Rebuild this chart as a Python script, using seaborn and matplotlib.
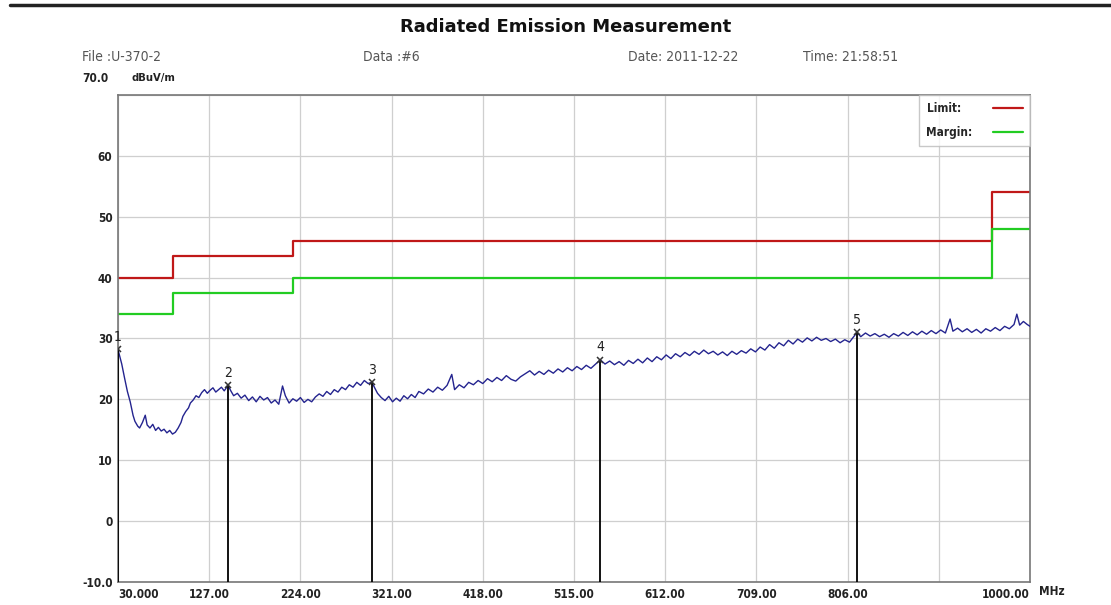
import matplotlib
matplotlib.use('Agg')
import matplotlib.pyplot as plt
import seaborn as sns
import pandas as pd
from matplotlib.lines import Line2D

freq = [30, 32, 34, 37, 40, 43, 46, 48, 51, 53, 56, 59, 61, 64, 67, 70, 73, 76, 79, 82,
        85, 88, 91, 94, 97, 99, 102, 105, 107, 110, 113, 116, 119, 122, 125, 128, 131, 134, 137, 140,
        143, 147, 150, 153, 157, 161, 165, 169, 173, 177, 181, 185, 189, 193, 197, 201, 205, 208, 212, 216,
        220, 224, 228, 232, 236, 240, 244, 248, 252, 256, 260, 264, 268, 272, 276, 280, 284, 288, 292, 296,
        300, 303, 306, 310, 314, 318, 322, 326, 330, 334, 338, 342, 346, 350, 355, 360, 365, 370, 375, 380,
        385, 388, 393, 398, 403, 408, 413, 418, 423, 428, 433, 438, 443, 448, 453, 458, 463, 468, 473, 478,
        483, 488, 493, 498, 503, 508, 513, 518, 523, 528, 533, 538, 543, 548, 553, 558, 563, 568, 573, 578,
        583, 588, 593, 598, 603, 608, 613, 618, 623, 628, 633, 638, 643, 648, 653, 658, 663, 668, 673, 678,
        683, 688, 693, 698, 703, 708, 713, 718, 723, 728, 733, 738, 743, 748, 753, 758, 763, 768, 773, 778,
        783, 788, 793, 798, 803, 808, 812, 816, 820, 825, 830, 835, 840, 845, 850, 855, 860, 865, 870, 875,
        880, 885, 890, 895, 900, 905, 910, 915, 918, 923, 928, 933, 938, 943, 948, 953, 958, 963, 968, 973,
        978, 983, 986, 989, 993, 997, 1000]
level = [28.2, 27.0, 25.8, 23.5, 21.3, 19.6, 17.4, 16.4, 15.6, 15.3, 16.2, 17.4, 15.8, 15.3, 15.9, 14.9, 15.4, 14.8, 15.1, 14.5,
         14.9, 14.3, 14.6, 15.3, 16.2, 17.2, 18.0, 18.6, 19.4, 19.9, 20.6, 20.3, 21.1, 21.6, 21.0, 21.5, 21.9, 21.2, 21.6, 22.0,
         21.4, 22.3, 21.4, 20.6, 21.0, 20.2, 20.7, 19.8, 20.4, 19.6, 20.5, 19.9, 20.3, 19.4, 19.9, 19.2, 22.2, 20.6, 19.4, 20.1,
         19.7, 20.3, 19.5, 20.0, 19.6, 20.4, 20.9, 20.5, 21.3, 20.8, 21.6, 21.2, 22.0, 21.6, 22.4, 22.0, 22.8, 22.3, 23.1, 22.6,
         22.8, 21.9, 21.0, 20.3, 19.8, 20.5, 19.6, 20.2, 19.7, 20.6, 20.1, 20.8, 20.3, 21.3, 20.9, 21.7, 21.2, 22.0, 21.5, 22.3,
         24.1, 21.6, 22.4, 21.9, 22.8, 22.4, 23.1, 22.6, 23.4, 22.9, 23.6, 23.1, 23.9, 23.3, 23.0, 23.7, 24.2, 24.7, 24.0, 24.6,
         24.1, 24.8, 24.3, 25.0, 24.5, 25.2, 24.7, 25.4, 24.9, 25.6, 25.1, 25.8, 26.5, 25.8, 26.3, 25.7, 26.2, 25.6, 26.4, 25.9,
         26.6, 26.0, 26.8, 26.2, 27.0, 26.5, 27.3, 26.7, 27.5, 27.0, 27.7, 27.2, 27.9, 27.4, 28.1, 27.5, 27.9, 27.3, 27.8, 27.2,
         27.9, 27.4, 28.0, 27.6, 28.3, 27.8, 28.6, 28.1, 29.0, 28.4, 29.3, 28.8, 29.7, 29.1, 29.9, 29.4, 30.1, 29.6, 30.2, 29.7,
         30.0, 29.5, 29.9, 29.3, 29.8, 29.4, 30.2, 31.0, 30.3, 30.9, 30.4, 30.8, 30.3, 30.7, 30.2, 30.8, 30.4, 31.0, 30.5, 31.1,
         30.6, 31.2, 30.7, 31.3, 30.8, 31.4, 30.9, 33.2, 31.2, 31.7, 31.1, 31.6, 31.0, 31.5, 30.9, 31.6, 31.2, 31.8, 31.3, 32.0,
         31.6, 32.3, 34.0, 32.2, 32.8, 32.3, 32.0]

# limit and margin lines (steps)
limit_freq = [30, 88, 216, 960, 1000]
limit_val = [40, 43.5, 46, 54, 54]
margin_val = [34, 37.5, 40, 48, 48]

# marked peaks
peak_no = ['1', '2', '3', '4', '5']
peak_freq = [30, 147, 300, 543, 816]
peak_level = [28.2, 22.3, 22.8, 26.5, 31.0]

xticks = [30, 127, 224, 321, 418, 515, 612, 709, 806, 903, 1000]
xlabels = ['30.000', '127.00', '224.00', '321.00', '418.00', '515.00', '612.00', '709.00', '806.00', '', '1000.00']
yticks = [-10, 0, 10, 20, 30, 40, 50, 60, 70]
ylabels = ['-10.0', '0', '10', '20', '30', '40', '50', '60', '']

sns.set_style('white')
plt.rcParams['font.family'] = ['DejaVu Sans']
plt.rcParams['font.stretch'] = 'condensed'

df = pd.DataFrame({'freq': freq, 'level': level})

fig = plt.figure(figsize=(11.11, 6.05), dpi=100)
ax = fig.add_axes([0.1062, 0.038, 0.8209, 0.805])

sns.lineplot(data=df, x='freq', y='level', ax=ax, color='#24248f', linewidth=1.0, zorder=3)
ax.plot(limit_freq, limit_val, drawstyle='steps-post', color='#c01818', linewidth=1.6, label='Limit:   ', zorder=2)
ax.plot(limit_freq, margin_val, drawstyle='steps-post', color='#22cc22', linewidth=1.6, label='Margin:', zorder=2)

# peak markers with drop lines
for n, f, v in zip(peak_no, peak_freq, peak_level):
    ax.vlines(f, -10, v, color='black', linewidth=1.3, zorder=4)
    ax.plot(f, v, marker='x', color='#333333', markersize=5, mew=1.1, zorder=5)
    ax.text(f, v + 0.9, n, ha='center', va='bottom', fontsize=10, color='#222222', zorder=5)

ax.set_xlim(30, 1000)
ax.set_ylim(-10, 70)
ax.set_xticks(xticks)
ax.set_xticklabels(xlabels, fontsize=8.5, fontweight='bold', color='#222222')
lbls = ax.get_xticklabels()
lbls[0].set_ha('left')
lbls[-1].set_ha('right')
ax.set_yticks(yticks)
ax.set_yticklabels(ylabels, fontsize=8.5, fontweight='bold', color='#222222')
ax.tick_params(axis='both', length=0, pad=4)
ax.grid(True, color='#cfcfcf', linewidth=0.9)
ax.set_xlabel('')
ax.set_ylabel('')
for s in ax.spines.values():
    s.set_color('#777777')
    s.set_linewidth(1.2)

leg = ax.legend(loc='upper right', markerfirst=False, frameon=True, fancybox=False,
                prop={'weight': 'bold', 'size': 8.5}, handlelength=2.5, borderaxespad=0.0,
                labelspacing=0.9, borderpad=0.6, handletextpad=1.8)
leg.get_frame().set_edgecolor('#bbbbbb')
leg.get_frame().set_linewidth(1.0)

# header
fig.add_artist(Line2D([0.009, 1.0], [0.991, 0.991], color='#222222', linewidth=2.5))
fig.text(0.509, 0.955, 'Radiated Emission Measurement', ha='center', va='center',
         fontsize=13, fontweight='bold', stretch='normal', color='#111111')
fig.text(0.074, 0.905, 'File :U-370-2', ha='left', va='center', fontsize=10, color='#555555')
fig.text(0.327, 0.905, 'Data :#6', ha='left', va='center', fontsize=10, color='#555555')
fig.text(0.565, 0.905, 'Date: 2011-12-22', ha='left', va='center', fontsize=10, color='#555555')
fig.text(0.723, 0.905, 'Time: 21:58:51', ha='left', va='center', fontsize=10, color='#555555')
fig.text(0.074, 0.871, '70.0', ha='left', va='center', fontsize=8.5, fontweight='bold', color='#222222')
fig.text(0.118, 0.871, 'dBuV/m', ha='left', va='center', fontsize=8, fontweight='bold', color='#222222')
fig.text(0.935, 0.022, 'MHz', ha='left', va='center', fontsize=8.5, fontweight='bold', color='#222222')

fig.savefig('out.png', dpi=100)
